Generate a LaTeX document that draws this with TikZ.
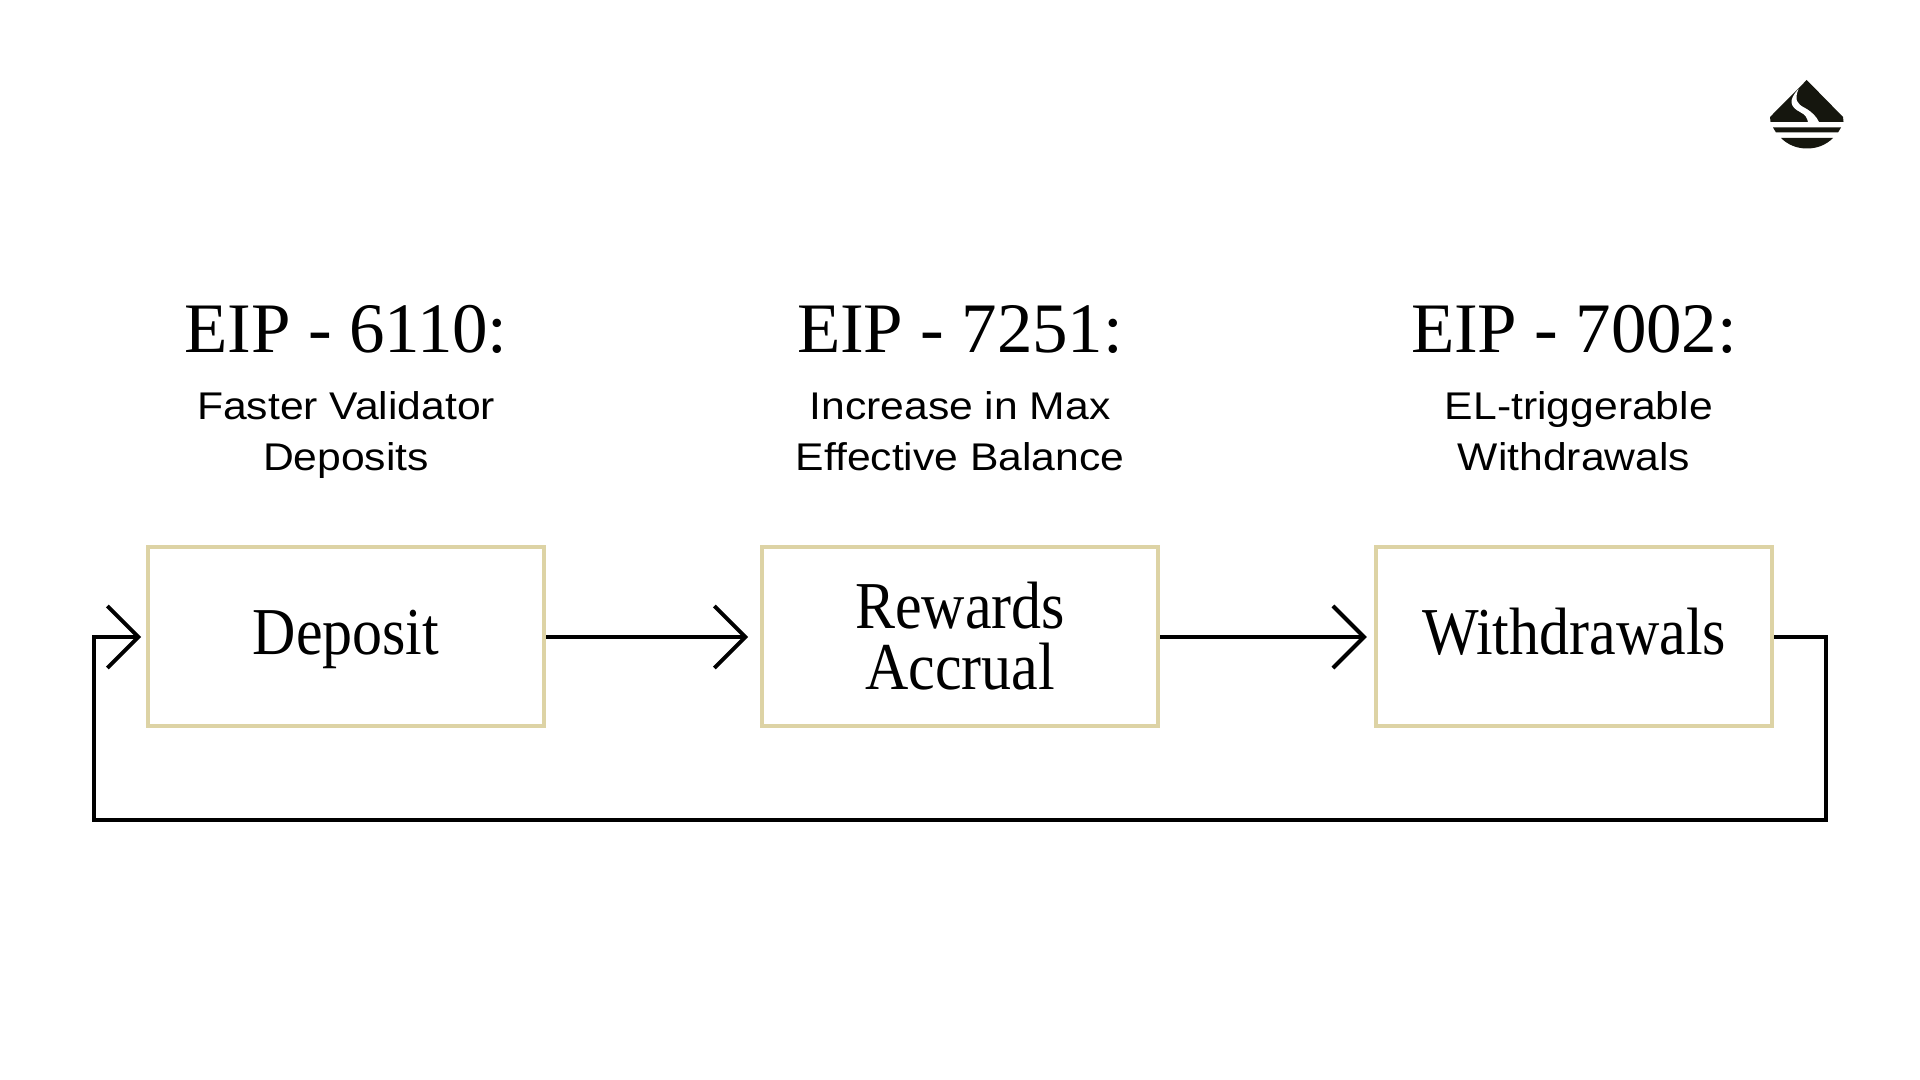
\documentclass[tikz,border=0pt]{standalone}
\usepackage{fontspec}
\setmainfont{Liberation Sans}
\newfontfamily\headfont[LetterSpace=-0.3]{Liberation Serif}
\newfontfamily\boxfont[FakeStretch=0.895]{Liberation Serif}
\newfontfamily\subfont[FakeStretch=1.105]{Liberation Sans}
\usetikzlibrary{arrows.meta}
\definecolor{boxline}{HTML}{DDD3A5}
\definecolor{inkdark}{HTML}{15160E}
\tikzset{
  stage/.style={draw=boxline, line width=1.8pt, minimum width=198.2pt, minimum height=89.7pt, align=center, font=\boxfont\fontsize{33.5pt}{30.5pt}\selectfont},
  oneline/.style={text height=24pt, text depth=6.5pt},
  eiphead/.style={anchor=base, font=\headfont\fontsize{35.5pt}{40pt}\selectfont},
  eipsub/.style={align=center, text depth=5pt, font=\subfont\fontsize{19.3pt}{25.5pt}\selectfont},
  flow/.style={draw=black, line width=2pt, -{Straight Barb[length=15.5pt, width=31pt, line width=2pt]}}
}
\begin{document}
\begin{tikzpicture}[x=0.5pt, y=-0.5pt]
  \useasboundingbox (0, 0) rectangle (1920, 1080);
  \node[stage, oneline] (deposit) at (346, 636.5) {Deposit};
  \node[stage] (rewards) at (960, 636.5) {Rewards\\Accrual};
  \node[stage, oneline] (withdrawals) at (1574, 636.5) {Withdrawals};
  \node[eiphead] (eipa) at (346, 352) {EIP - 6110:};
  \node[eiphead] (eipb) at (960, 352) {EIP - 7251:};
  \node[eiphead] (eipc) at (1574, 352) {EIP - 7002:};
  \node[eipsub] (suba) at (346, 436) {Faster Validator\\Deposits};
  \node[eipsub] (subb) at (960, 436) {Increase in Max\\Effective Balance};
  \node[eipsub] (subc) at (1574, 436) {\hspace*{4.9pt}EL-triggerable\\Withdrawals};
  \coordinate (loopr) at (1826, 820);
  \coordinate (loopl) at (94, 820);
  \draw[flow, shorten >=5.9pt] (deposit.east |- 0, 637) -- (rewards.west |- 0, 637);
  \draw[flow, shorten >=3.6pt] (rewards.east |- 0, 637) -- (withdrawals.west |- 0, 637);
  \draw[flow, shorten >=2.4pt] (withdrawals.east |- 0, 637) -| (loopr) -- (loopl) |- (deposit.west |- 0, 637);
  \fill[inkdark] (1806.7, 80) -- (1843, 117) -- (1843.5, 122) -- (1770.5, 122) -- (1770, 117) -- cycle;
  \fill[white] (1798.5, 89) .. controls (1788, 100) and (1790, 107) .. (1800, 112) .. controls (1806, 115) and (1807, 118) .. (1808, 122) -- (1819, 122) .. controls (1816, 116) and (1812, 112) .. (1805, 108) .. controls (1797, 104) and (1794, 100) .. (1798.5, 89) -- cycle;
  \fill[inkdark] (1773, 127.5) -- (1841, 127.5) -- (1838, 132.5) -- (1776, 132.5) -- cycle;
  \fill[inkdark] (1781, 138) -- (1833, 138) .. controls (1826, 145) and (1817, 148.5) .. (1807, 148.5) .. controls (1797, 148.5) and (1788, 145) .. (1781, 138) -- cycle;
\end{tikzpicture}
\end{document}
